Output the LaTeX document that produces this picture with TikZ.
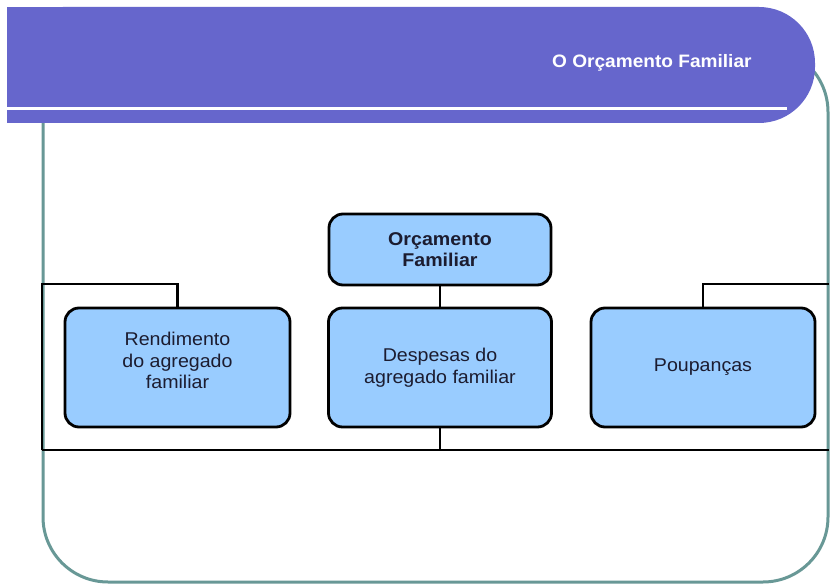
\documentclass[tikz,border=0pt]{standalone}
\usepackage{fontspec}
\setmainfont{Liberation Sans}[FakeStretch=1.06]
\definecolor{bannercol}{RGB}{102,102,204}
\definecolor{framecol}{RGB}{104,152,150}
\definecolor{boxfill}{RGB}{153,204,255}
\definecolor{txtcol}{RGB}{28,28,48}
\begin{document}
\begin{tikzpicture}[x=1pt,y=-1pt,
  boxnode/.style={draw=black, line width=2.8pt, fill=boxfill, rounded corners=14pt,
    text=txtcol, align=center, font=\fontsize{18.5}{21.5}\selectfont, inner sep=0pt},
  conn/.style={draw=black, line width=2.2pt}]
\useasboundingbox (0,0) rectangle (830,585);
\fill[white] (0,0) rectangle (830,585);
% frame
\draw[framecol, line width=3pt, rounded corners=65pt] (43,47) rectangle (828,582);
% boxes
\node[boxnode, minimum width=222pt, minimum height=71pt] (top) at (440,249.5) {\bfseries Orçamento\\\bfseries Familiar};
\node[boxnode, minimum width=225pt, minimum height=119pt] (left) at (177.5,367.5) {Rendimento\\do agregado\\familiar\\[-8pt]\mbox{}};
\node[boxnode, minimum width=223pt, minimum height=119pt] (mid) at (440,367.5) {Despesas do\\agregado familiar};
\node[boxnode, minimum width=224pt, minimum height=119pt] (right) at (703,367.5) {Poupanças};
% connectors
\coordinate (bl) at (42,450);
\coordinate (br) at (829,450);
\coordinate (tl) at (42,284);
\coordinate (tr) at (829,284);
\draw[conn] (top.south) -- (mid.north);
\draw[conn] (mid.south) -- (mid.south |- bl);
\draw[conn] (bl) -- (br);
\draw[conn] (left.north) -- (left.north |- tl) -- (tl) -- (bl);
\draw[conn] (right.north) -- (right.north |- tr) -- (tr);
% banner
\fill[bannercol, rounded corners=56pt] (7,7) -- (815,7) -- (815,123) -- (7,123) -- cycle;
\fill[bannercol] (7,7) rectangle (120,123);
\draw[white, line width=3.2pt] (7,108.5) -- (787,108.5);
\node[text=white, font=\bfseries\fontsize{18}{21}\selectfont, anchor=base west, inner sep=0pt] (title) at (552,68) {O Orçamento Familiar};
\end{tikzpicture}
\end{document}
